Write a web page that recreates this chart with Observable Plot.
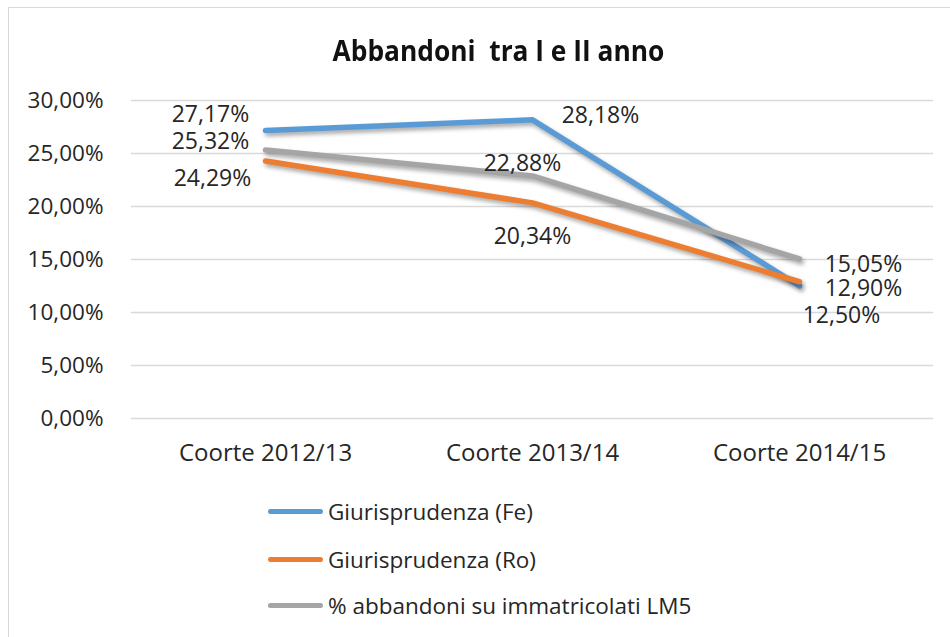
<!DOCTYPE html>
<html>
<head>
<meta charset="utf-8">
<script src="https://cdn.jsdelivr.net/npm/d3@7"></script>
<script src="https://cdn.jsdelivr.net/npm/@observablehq/plot@0.6"></script>
<style>
  body { margin: 0; background: #fff; width: 950px; height: 637px; overflow: hidden; position: relative; }
  #frame { position: absolute; left: 8px; top: 7px; width: 960px; height: 650px; border: 1.5px solid #d9d9d9; box-sizing: border-box; }
  #titlewrap { position: absolute; left: 0; width: 996px; top: 33px; text-align: center; }
  #title { display: inline-block; transform: scaleX(0.94); transform-origin: center;
           font-family: "Open Sans", sans-serif; font-weight: bold; font-size: 28px; color: #111; line-height: 34px; white-space: pre; }
  #chart { position: absolute; left: 0; top: 80px; }
  .leg { position: absolute; left: 268px; height: 30px; display: flex; align-items: center;
         font-family: "Open Sans", sans-serif; font-size: 22.5px; color: #262626; }
  .leg .sw { width: 55px; height: 5px; border-radius: 3px; margin-right: 5px; }
</style>
</head>
<body>
<div id="frame"></div>
<div id="titlewrap"><span id="title">Abbandoni  tra I e II anno</span></div>
<div id="chart"></div>
<div id="legend"></div>
<script>
const categories = ["Coorte 2012/13", "Coorte 2013/14", "Coorte 2014/15"];
const seriesNames = ["Giurisprudenza (Fe)", "Giurisprudenza (Ro)", "% abbandoni su immatricolati LM5"];
const fe = [27.17, 28.18, 12.50];
const ro = [24.29, 20.34, 12.90];
const lm5 = [25.32, 22.88, 15.05];
const yTicks = [0, 5, 10, 15, 20, 25, 30];
const colors = ["#5B9BD5", "#ED7D31", "#A5A5A5"];

// label offsets (style, not data): [dx, dy] per series per category
const labelOffsets = [
  [[-55, -16], [68, -4], [42, 30]],
  [[-53, 18], [0, 34], [64, 6.5]],
  [[-55, -8], [-10, -12.5], [64, 6]]
];

const seriesValues = [fe, ro, lm5];
const rows = [];
seriesValues.forEach((vals, s) => vals.forEach((v, i) => rows.push({
  series: seriesNames[s], cat: categories[i], value: v, s, i,
  dx: labelOffsets[s][i][0], dy: labelOffsets[s][i][1]
})));

const fmt = v => v.toFixed(2).replace(".", ",") + "%";

const labelMarks = rows.map(r => Plot.text([r], {
  x: "cat", y: "value", text: d => fmt(d.value), dx: r.dx, dy: r.dy,
  textAnchor: "middle", lineAnchor: "middle", fill: "#262626", fontSize: 23
}));

const plot = Plot.plot({
  width: 950,
  height: 400,
  marginLeft: 131,
  marginRight: 17,
  marginTop: 20,
  marginBottom: 62,
  style: { fontFamily: "Open Sans, sans-serif", fontSize: "22.5px", color: "#262626", background: "transparent" },
  x: { type: "point", domain: categories, padding: 0.5, axis: null },
  y: { domain: [0, 30], ticks: yTicks, tickSize: 0, tickPadding: 28, tickFormat: d => d.toFixed(2).replace(".", ",") + "%", label: null },
  color: { domain: seriesNames, range: colors },
  marks: [
    Plot.ruleY(yTicks, { stroke: "#d9d9d9", strokeWidth: 1.5 }),
    Plot.line(rows, { x: "cat", y: "value", z: "series", stroke: "series", strokeWidth: 5.5, strokeLinecap: "round", strokeLinejoin: "round" }),
    Plot.text(categories, { x: d => d, y: () => 0, dy: 35, text: d => d, textAnchor: "middle", lineAnchor: "middle",
      fontSize: 24, fill: "#262626" }),
    ...labelMarks
  ]
});
document.getElementById("chart").appendChild(plot);
d3.select(plot).selectAll("g[aria-label=line] path").style("filter", "drop-shadow(2px 3px 2px rgba(0,0,0,0.35))");

const legendTops = [496, 544, 590];
const legend = document.getElementById("legend");
seriesNames.forEach((n, i) => {
  const d = document.createElement("div");
  d.className = "leg";
  d.style.top = legendTops[i] + "px";
  d.innerHTML = `<div class="sw" style="background:${colors[i]}"></div><span>${n}</span>`;
  legend.appendChild(d);
});
</script>
</body>
</html>
